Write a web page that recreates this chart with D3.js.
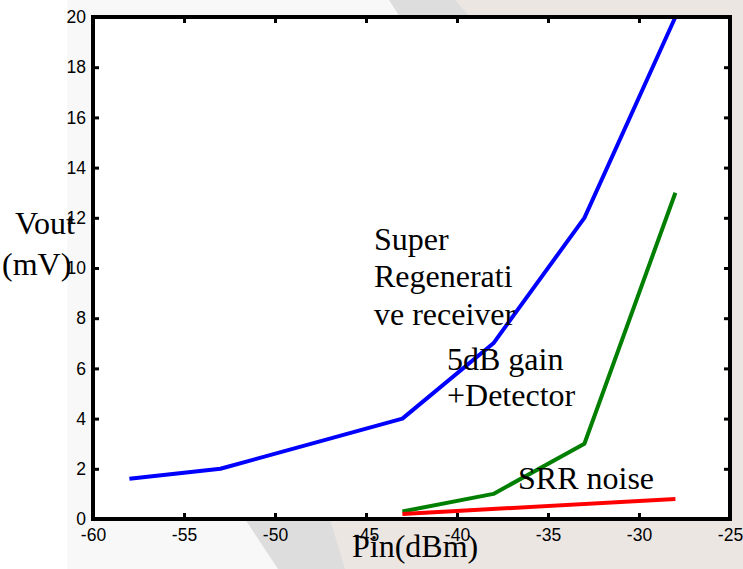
<!DOCTYPE html>
<html>
<head>
<meta charset="utf-8">
<script src="https://cdn.jsdelivr.net/npm/d3@7"></script>
<style>
  body { margin: 0; background: #fff; }
  .tick text { font-family: "Liberation Sans", Arial, sans-serif; font-size: 17.5px; fill: #000; }
  .note { font-family: "Liberation Serif", "Times New Roman", serif; font-size: 32px; fill: #000; }
</style>
</head>
<body>
<svg id="chart" width="743" height="569"></svg>
<script>
// Pin (dBm) values where each curve was measured
const pinSrr = [-58, -53, -43, -38, -33, -28];
const voutSrr = [1.6, 2, 4, 7, 12, 20];

const pinGain = [-43, -38, -33, -28];
const voutGain = [0.3, 1, 3, 13];

const pinNoise = [-43, -28];
const voutNoise = [0.2, 0.8];

const xTicks = [-60, -55, -50, -45, -40, -35, -30, -25];
const yTicks = [0, 2, 4, 6, 8, 10, 12, 14, 16, 18, 20];

const svg = d3.select("#chart");
const W = 743, H = 569;
const plot = {left: 93, right: 730, top: 17, bottom: 519};

// slide background (rough marble / watermark look)
svg.append("rect").attr("x", 67).attr("y", 0).attr("width", W - 67).attr("height", H).attr("fill", "#f8f8f8");
svg.append("polygon")
  .attr("points", "389,0 743,0 743,569 278,569 245,519 400,17")
  .attr("fill", "#dedddd");
svg.append("polygon")
  .attr("points", "455,0 743,0 743,569 345,569 330,519 470,17")
  .attr("fill", "#ece6e3");

const x = d3.scaleLinear().domain([-60, -25]).range([plot.left, plot.right]);
const y = d3.scaleLinear().domain([0, 20]).range([plot.bottom, plot.top]);

svg.append("rect")
  .attr("x", plot.left).attr("y", plot.top)
  .attr("width", plot.right - plot.left).attr("height", plot.bottom - plot.top)
  .attr("fill", "#fff");

const line = d3.line().x(d => x(d[0])).y(d => y(d[1]));

function drawSeries(xs, ys, color) {
  svg.append("path")
    .datum(d3.zip(xs, ys))
    .attr("d", line)
    .attr("fill", "none")
    .attr("stroke", color)
    .attr("stroke-width", 4)
    .attr("stroke-linejoin", "round");
}

drawSeries(pinSrr, voutSrr, "#0000ff");
drawSeries(pinGain, voutGain, "#007f00");
drawSeries(pinNoise, voutNoise, "#ff0000");

// axes, ticks pointing inward like matlab
const fmt = d => d3.format("d")(d).replace("−", "-");

const gx = svg.append("g").attr("transform", `translate(0,${plot.bottom})`)
  .call(d3.axisBottom(x).tickValues(xTicks).tickSize(-6).tickSizeOuter(0).tickPadding(10).tickFormat(fmt));
const gy = svg.append("g").attr("transform", `translate(${plot.left},0)`)
  .call(d3.axisLeft(y).tickValues(yTicks).tickSize(-6).tickSizeOuter(0).tickPadding(7).tickFormat(fmt));
const gt = svg.append("g").attr("transform", `translate(0,${plot.top})`)
  .call(d3.axisTop(x).tickValues(xTicks).tickSize(-6).tickSizeOuter(0).tickFormat(""));
const gr = svg.append("g").attr("transform", `translate(${plot.right},0)`)
  .call(d3.axisRight(y).tickValues(yTicks).tickSize(-6).tickSizeOuter(0).tickFormat(""));

[gx, gy, gt, gr].forEach(g => {
  g.select(".domain").remove();
  g.selectAll(".tick line").attr("stroke", "#000").attr("stroke-width", 3);
});

svg.append("rect")
  .attr("x", plot.left).attr("y", plot.top)
  .attr("width", plot.right - plot.left).attr("height", plot.bottom - plot.top)
  .attr("fill", "none").attr("stroke", "#000").attr("stroke-width", 4);

// axis titles and curve notes
const notes = [
  {t: "Vout", x: 15, y: 234},
  {t: "(mV)", x: 2, y: 275},
  {t: "Super", x: 374, y: 250},
  {t: "Regenerati", x: 374, y: 287},
  {t: "ve receiver", x: 374, y: 325},
  {t: "5dB gain", x: 447, y: 370},
  {t: "+Detector", x: 447, y: 406},
  {t: "SRR noise", x: 518, y: 489},
  {t: "Pin(dBm)", x: 352, y: 557}
];
svg.selectAll("text.note").data(notes).join("text")
  .attr("class", "note")
  .attr("x", d => d.x).attr("y", d => d.y)
  .text(d => d.t);
</script>
</body>
</html>
